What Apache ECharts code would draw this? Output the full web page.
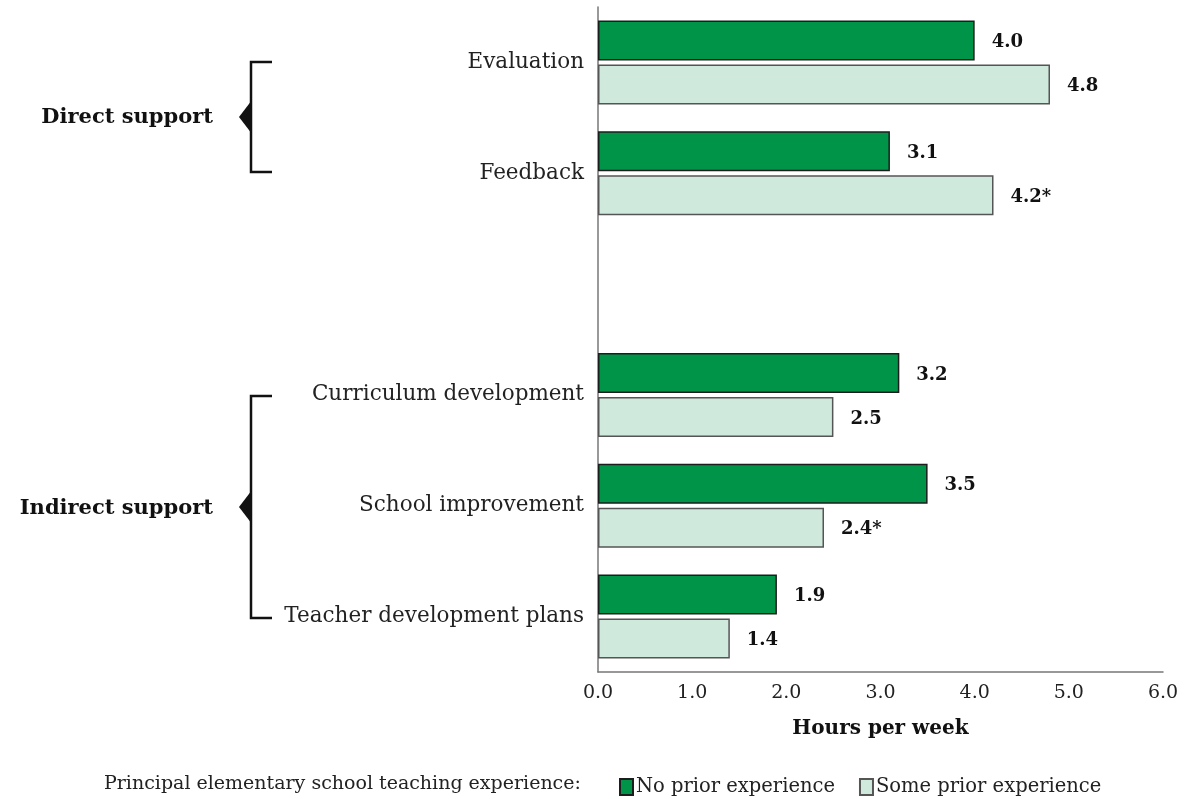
<!DOCTYPE html>
<html>
<head>
<meta charset="utf-8">
<script src="https://cdn.jsdelivr.net/npm/echarts@6/dist/echarts.min.js"></script>
<style>
  html, body { margin: 0; padding: 0; background: #fff; }
  #chart { width: 1187px; height: 799px; }
</style>
</head>
<body>
<div id="chart"></div>
<script>
// categories, top to bottom ('' is the spacer between the two groups)
var categories = ['Evaluation', 'Feedback', '', 'Curriculum development', 'School improvement', 'Teacher development plans'];
var noPrior = [4.0, 3.1, '-', 3.2, 3.5, 1.9];
var somePrior = [4.8, 4.2, '-', 2.5, 2.4, 1.4];
// * = significant difference
var somePriorStar = [false, true, false, false, true, false];
var xTicks = [0, 1, 2, 3, 4, 5, 6];

var FONT = 'DejaVu Serif';
var chart = echarts.init(document.getElementById('chart'));

// bracket for a group of categories
function bracket(yTop, yBot) {
  var mid = (yTop + yBot) / 2;
  return [
    { type: 'polyline', shape: { points: [[272, yTop], [251, yTop], [251, yBot], [272, yBot]] },
      style: { stroke: '#111', lineWidth: 2.5, fill: null } },
    { type: 'polygon', shape: { points: [[252, mid - 17], [239, mid], [252, mid + 17]] },
      style: { fill: '#111' } }
  ];
}

var valueLabel = {
  show: true, position: 'right', distance: 17, offset: [0, 2],
  fontFamily: FONT, fontSize: 18, fontWeight: 'bold', color: '#111'
};

var option = {
  backgroundColor: '#fff',
  textStyle: { fontFamily: FONT },
  grid: { left: 598, right: 24, top: 7, bottom: 127 },
  xAxis: {
    type: 'value',
    min: xTicks[0],
    max: xTicks[xTicks.length - 1],
    interval: 1,
    name: 'Hours per week',
    nameLocation: 'middle',
    nameGap: 47,
    nameTextStyle: { fontFamily: FONT, fontSize: 20, fontWeight: 'bold', color: '#111' },
    axisLine: { show: true, lineStyle: { color: '#777', width: 1.5 } },
    axisTick: { show: false },
    splitLine: { show: false },
    axisLabel: {
      fontFamily: FONT, fontSize: 19, color: '#222', margin: 12,
      formatter: function (v) { return v.toFixed(1); }
    }
  },
  yAxis: {
    type: 'category',
    data: categories,
    inverse: true,
    axisLine: { show: true, lineStyle: { color: '#777', width: 1.5 } },
    axisTick: { show: false },
    axisLabel: { fontFamily: FONT, fontSize: 21.5, color: '#222', margin: 14, padding: [6, 0, 0, 0] }
  },
  legend: {
    left: 614,
    top: 772,
    icon: 'rect',
    itemWidth: 13,
    itemHeight: 16,
    itemGap: 24,
    textStyle: { fontFamily: FONT, fontSize: 19.5, color: '#222', padding: [0, 0, 0, -2] },
    data: ['No prior experience', 'Some prior experience']
  },
  series: [
    {
      name: 'No prior experience',
      type: 'bar',
      data: noPrior,
      barWidth: 40,
      barGap: '10%',
      itemStyle: { color: '#009448', borderColor: '#1d1d1d', borderWidth: 1.5 },
      label: Object.assign({}, valueLabel, {
        formatter: function (p) { return p.value.toFixed(1); }
      })
    },
    {
      name: 'Some prior experience',
      type: 'bar',
      data: somePrior,
      barWidth: 40,
      itemStyle: { color: '#cfeadc', borderColor: '#555', borderWidth: 1.5 },
      label: Object.assign({}, valueLabel, {
        formatter: function (p) { return p.value.toFixed(1) + (somePriorStar[p.dataIndex] ? '*' : ''); }
      })
    }
  ],
  graphic: [
    { type: 'text', right: 1187 - 213, top: 107,
      style: { text: 'Direct support', font: 'bold 21px "DejaVu Serif"', fill: '#111' } },
    { type: 'text', right: 1187 - 213, top: 498,
      style: { text: 'Indirect support', font: 'bold 21px "DejaVu Serif"', fill: '#111' } },
    { type: 'text', left: 104, top: 775,
      style: { text: 'Principal elementary school teaching experience:', font: '19px "DejaVu Serif"', fill: '#222' } }
  ].concat(bracket(62, 172)).concat(bracket(396, 618))
};

chart.setOption(option);
</script>
</body>
</html>
